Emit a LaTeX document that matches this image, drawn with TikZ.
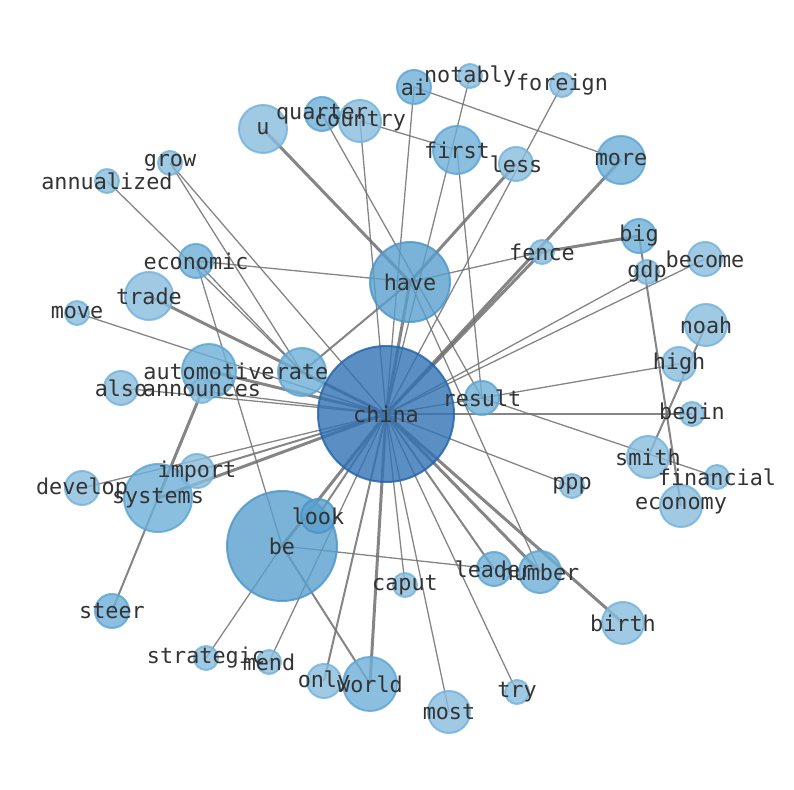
\documentclass[tikz,border=0pt]{standalone}
\usepackage{fontspec}
\setmonofont{DejaVu Sans Mono}

\definecolor{hubfill}{HTML}{3273B5}
\definecolor{hubline}{HTML}{1F63AA}
\definecolor{midfill}{HTML}{59A0CD}
\definecolor{midline}{HTML}{4A95C9}
\definecolor{lowfill}{HTML}{6DAFD8}
\definecolor{lowline}{HTML}{5BA4D4}
\definecolor{palefill}{HTML}{88BDDD}
\definecolor{paleline}{HTML}{72B2DB}
\definecolor{wordgray}{HTML}{333333}
\definecolor{edgegray}{HTML}{707070}

\pgfdeclarelayer{edges}
\pgfdeclarelayer{words}
\pgfsetlayers{edges,main,words}

\begin{document}
\begin{tikzpicture}[
    x=0.5pt, y=-0.5pt,
    every node/.style={circle, inner sep=0pt, line width=1pt, fill opacity=0.8, draw opacity=0.8},
    hub/.style={draw=hubline, fill=hubfill},
    midword/.style={draw=midline, fill=midfill},
    lowword/.style={draw=lowline, fill=lowfill},
    paleword/.style={draw=paleline, fill=palefill},
    sz/.style={minimum size=#1pt},
    word/.style={rectangle, draw=none, fill=none, fill opacity=1, text=wordgray, font=\ttfamily\fontsize{10.9}{13}\selectfont},
    thinedge/.style={draw=edgegray, draw opacity=0.85, line width=0.65pt},
    midedge/.style={thinedge, line width=1pt},
    thickedge/.style={thinedge, line width=1.5pt}
]
\useasboundingbox (0,0) rectangle (794,790);

% hub and large terms
\node[hub, sz=68] (china) at (386,414) {};
\node[midword, sz=40] (have) at (410,282) {};
\node[midword, sz=55] (be) at (282,546) {};
\node[lowword, sz=34] (systems) at (158,498) {};
\node[lowword, sz=27] (automotive) at (209,371) {};
\node[lowword, sz=27] (world) at (370,684) {};
\node[lowword, sz=24] (rate) at (302,372) {};
\node[lowword, sz=24] (first) at (457,150) {};
\node[lowword, sz=24] (more) at (621,160) {};
\node[paleword, sz=24] (trade) at (149,296) {};
\node[paleword, sz=24] (u) at (263,129) {};

% medium terms
\node[paleword, sz=21] (country) at (360,121) {};
\node[paleword, sz=21] (noah) at (706,325) {};
\node[paleword, sz=21] (smith) at (648,457) {};
\node[paleword, sz=21] (economy) at (681,506) {};
\node[paleword, sz=21] (birth) at (623,623) {};
\node[lowword, sz=21] (number) at (540,572) {};
\node[paleword, sz=21] (most) at (449,712) {};
\node[lowword, sz=17] (quarter) at (322,114) {};
\node[lowword, sz=17] (ai) at (414,87) {};
\node[paleword, sz=17] (less) at (516,164) {};
\node[lowword, sz=17] (big) at (639,236) {};
\node[paleword, sz=17] (become) at (705,259) {};
\node[paleword, sz=17] (high) at (679,364) {};
\node[lowword, sz=17] (result) at (482,398) {};
\node[paleword, sz=17] (also) at (121,388) {};
\node[paleword, sz=17] (develop) at (82,488) {};
\node[paleword, sz=17] (import) at (197,471) {};
\node[paleword, sz=17] (only) at (324,681) {};
\node[lowword, sz=17] (steer) at (112,611) {};
\node[lowword, sz=17] (economic) at (196,261) {};
\node[lowword, sz=17] (leader) at (494,569) {};
\node[midword, sz=17] (look) at (318,516) {};

% small terms
\node[paleword, sz=12] (annualized) at (107,181) {};
\node[paleword, sz=12] (grow) at (170,163) {};
\node[paleword, sz=12] (notably) at (470,76) {};
\node[paleword, sz=12] (foreign) at (562,85) {};
\node[paleword, sz=12] (fence) at (542,252) {};
\node[paleword, sz=12] (gdp) at (647,272) {};
\node[paleword, sz=12] (begin) at (692,414) {};
\node[paleword, sz=12] (financial) at (717,477) {};
\node[paleword, sz=12] (ppp) at (572,486) {};
\node[paleword, sz=12] (caput) at (405,585) {};
\node[paleword, sz=12] (try) at (517,692) {};
\node[paleword, sz=12] (mend) at (269,662) {};
\node[paleword, sz=12] (strategic) at (206,658) {};
\node[paleword, sz=12] (move) at (77,313) {};
\node[paleword, sz=12] (announces) at (202,391) {};

% co-occurrence links, behind the terms
\begin{pgfonlayer}{edges}
\draw[thickedge] (china.center) -- (have.center);
\draw[thickedge] (china.center) -- (trade.center);
\draw[thickedge] (china.center) -- (automotive.center);
\draw[thickedge] (china.center) -- (systems.center);
\draw[thickedge] (china.center) -- (be.center);
\draw[thickedge] (china.center) -- (world.center);
\draw[thickedge] (china.center) -- (number.center);
\draw[thickedge] (china.center) -- (birth.center);
\draw[thickedge] (china.center) -- (more.center);
\draw[thickedge] (china.center) -- (fence.center);
\draw[thickedge] (have.center) -- (u.center);
\draw[thickedge] (have.center) -- (less.center);
\draw[thickedge] (fence.center) -- (big.center);
\draw[thickedge] (announces.center) -- (systems.center);
\draw[midedge] (china.center) -- (only.center);
\draw[midedge] (china.center) -- (leader.center);
\draw[midedge] (china.center) -- (look.center);
\draw[midedge] (china.center) -- (rate.center);
\draw[midedge] (china.center) -- (import.center);
\draw[midedge] (be.center) -- (world.center);
\draw[midedge] (have.center) -- (rate.center);
\draw[midedge] (noah.center) -- (smith.center);
\draw[midedge] (big.center) -- (economy.center);
\draw[midedge] (systems.center) -- (steer.center);
\draw[thinedge] (china.center) -- (country.center);
\draw[thinedge] (china.center) -- (ai.center);
\draw[thinedge] (china.center) -- (notably.center);
\draw[thinedge] (china.center) -- (foreign.center);
\draw[thinedge] (china.center) -- (gdp.center);
\draw[thinedge] (china.center) -- (become.center);
\draw[thinedge] (china.center) -- (begin.center);
\draw[thinedge] (china.center) -- (ppp.center);
\draw[thinedge] (china.center) -- (result.center);
\draw[thinedge] (china.center) -- (grow.center);
\draw[thinedge] (china.center) -- (move.center);
\draw[thinedge] (china.center) -- (also.center);
\draw[thinedge] (china.center) -- (announces.center);
\draw[thinedge] (china.center) -- (develop.center);
\draw[thinedge] (china.center) -- (mend.center);
\draw[thinedge] (china.center) -- (caput.center);
\draw[thinedge] (china.center) -- (most.center);
\draw[thinedge] (china.center) -- (try.center);
\draw[thinedge] (have.center) -- (economic.center);
\draw[thinedge] (have.center) -- (fence.center);
\draw[thinedge] (have.center) -- (number.center);
\draw[thinedge] (rate.center) -- (annualized.center);
\draw[thinedge] (rate.center) -- (economic.center);
\draw[thinedge] (rate.center) -- (grow.center);
\draw[thinedge] (economic.center) -- (be.center);
\draw[thinedge] (quarter.center) -- (result.center);
\draw[thinedge] (country.center) -- (first.center);
\draw[thinedge] (first.center) -- (result.center);
\draw[thinedge] (ai.center) -- (more.center);
\draw[thinedge] (high.center) -- (result.center);
\draw[thinedge] (result.center) -- (financial.center);
\draw[thinedge] (be.center) -- (leader.center);
\draw[thinedge] (be.center) -- (strategic.center);
\end{pgfonlayer}

% term labels, above everything
\begin{pgfonlayer}{words}
\node[word] (china-w) at (china) {china};
\node[word] (have-w) at (have) {have};
\node[word] (be-w) at (be) {be};
\node[word] (systems-w) at (systems) {systems};
\node[word] (automotive-w) at (automotive) {automotive};
\node[word] (world-w) at (world) {world};
\node[word] (rate-w) at (rate) {rate};
\node[word] (first-w) at (first) {first};
\node[word] (more-w) at (more) {more};
\node[word] (trade-w) at (trade) {trade};
\node[word] (u-w) at (u) {u};
\node[word] (country-w) at (country) {country};
\node[word] (noah-w) at (noah) {noah};
\node[word] (smith-w) at (smith) {smith};
\node[word] (economy-w) at (economy) {economy};
\node[word] (birth-w) at (birth) {birth};
\node[word] (number-w) at (number) {number};
\node[word] (most-w) at (most) {most};
\node[word] (quarter-w) at (quarter) {quarter};
\node[word] (ai-w) at (ai) {ai};
\node[word] (less-w) at (less) {less};
\node[word] (big-w) at (big) {big};
\node[word] (become-w) at (become) {become};
\node[word] (high-w) at (high) {high};
\node[word] (result-w) at (result) {result};
\node[word] (also-w) at (also) {also};
\node[word] (develop-w) at (develop) {develop};
\node[word] (import-w) at (import) {import};
\node[word] (only-w) at (only) {only};
\node[word] (steer-w) at (steer) {steer};
\node[word] (economic-w) at (economic) {economic};
\node[word] (leader-w) at (leader) {leader};
\node[word] (look-w) at (look) {look};
\node[word] (annualized-w) at (annualized) {annualized};
\node[word] (grow-w) at (grow) {grow};
\node[word] (notably-w) at (notably) {notably};
\node[word] (foreign-w) at (foreign) {foreign};
\node[word] (fence-w) at (fence) {fence};
\node[word] (gdp-w) at (gdp) {gdp};
\node[word] (begin-w) at (begin) {begin};
\node[word] (financial-w) at (financial) {financial};
\node[word] (ppp-w) at (ppp) {ppp};
\node[word] (caput-w) at (caput) {caput};
\node[word] (try-w) at (try) {try};
\node[word] (mend-w) at (mend) {mend};
\node[word] (strategic-w) at (strategic) {strategic};
\node[word] (move-w) at (move) {move};
\node[word] (announces-w) at (announces) {announces};
\end{pgfonlayer}

\end{tikzpicture}
\end{document}
